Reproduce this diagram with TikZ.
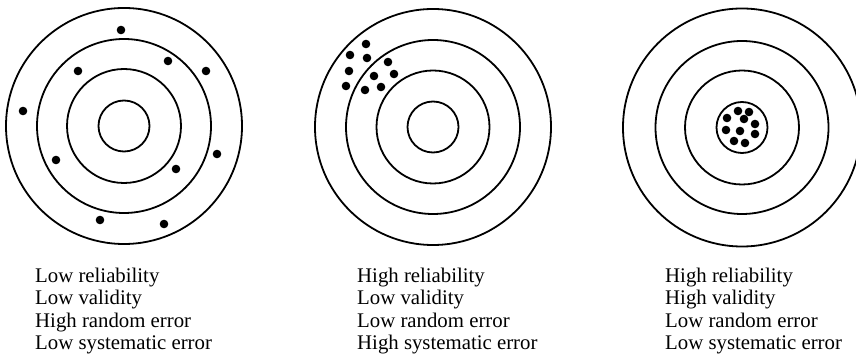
\documentclass[tikz,border=0pt]{standalone}
\usepackage{fontspec}
\setmainfont{Liberation Serif}
\begin{document}
\begin{tikzpicture}[x=1pt,y=-1pt,
  ring/.style={draw=black,line width=1.8pt},
  shot/.style={fill=black},
  lbl/.style={anchor=base west,inner sep=0pt,font=\fontsize{20.8}{22}\selectfont}]
\useasboundingbox (0,0) rectangle (856,355);
\clip (0,0) rectangle (856,355);
% target 1
\foreach \r in {118,87,57,25.5} \draw[ring] (124,126) circle (\r);
\foreach \p in {(121,30),(168,61),(206,71),(78,71),(23,111),(217,154),(56,160),(176,169),(100,220),(164,224)}
  \fill[shot] \p circle (4.3);
% target 2
\foreach \r in {118,87,56.5,25.5} \draw[ring] (433,127) circle (\r);
\foreach \p in {(366,44),(350,55),(367,58),(388,62),(349,71),(374,76),(394,74),(346,86),(365,90),(381,87)}
  \fill[shot] \p circle (4.3);
% target 3
\foreach \r in {119,86.5,57,25.5} \draw[ring] (742,127.5) circle (\r);
\foreach \p in {(738,111),(749,112),(727,118),(744,119),(755,124),(726,130),(740,131),(755,134),(734,141),(745,143)}
  \fill[shot] \p circle (4.3);
% labels
\node[lbl] (a1) at (35,282) {Low reliability};
\node[lbl] (a2) at (35,304.5) {Low validity};
\node[lbl] (a3) at (35,327) {High random error};
\node[lbl] (a4) at (35,349.5) {Low systematic error};
\node[lbl] (b1) at (357,282) {High reliability};
\node[lbl] (b2) at (357,304.5) {Low validity};
\node[lbl] (b3) at (357,327) {Low random error};
\node[lbl] (b4) at (357,349.5) {High systematic error};
\node[lbl] (c1) at (665,282) {High reliability};
\node[lbl] (c2) at (665,304.5) {High validity};
\node[lbl] (c3) at (665,327) {Low random error};
\node[lbl] (c4) at (665,349.5) {Low systematic error};
\end{tikzpicture}
\end{document}
